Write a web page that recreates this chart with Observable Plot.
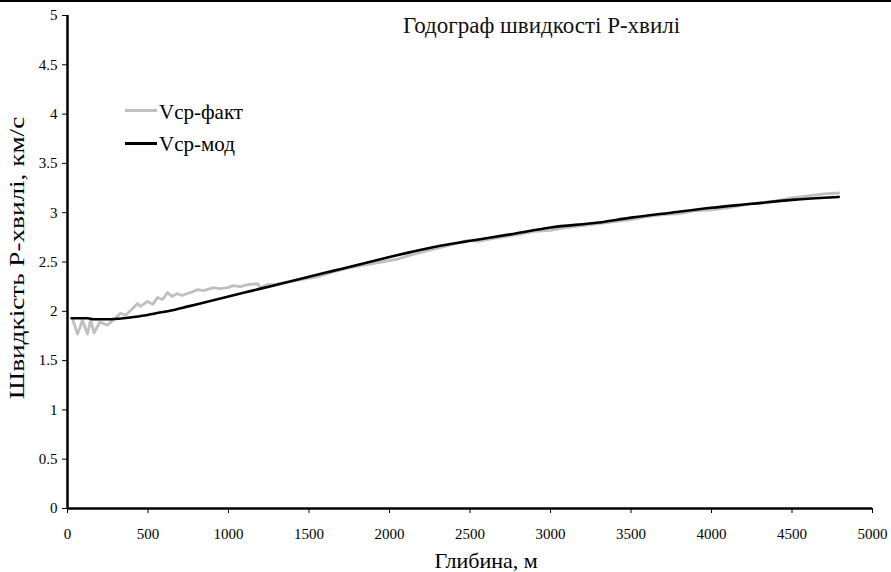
<!DOCTYPE html>
<html>
<head>
<meta charset="utf-8">
<script src="https://cdn.jsdelivr.net/npm/d3@7"></script>
<script src="https://cdn.jsdelivr.net/npm/@observablehq/plot@0.6"></script>
<style>
  html, body { margin: 0; padding: 0; background: #fff; }
  #wrap { position: relative; width: 891px; height: 572px; overflow: hidden; font-family: "Liberation Serif", Tinos, "DejaVu Serif", serif; }
  #topline { position: absolute; left: 0; top: 0; width: 891px; height: 2px; background: #000; }
  #title { position: absolute; left: 403px; top: 14px; font-size: 23px; line-height: 1; color: #111; white-space: nowrap; }
  .legtxt { position: absolute; left: 159px; font-size: 21px; line-height: 1; color: #000; white-space: nowrap; }
  .sw { position: absolute; left: 125px; width: 32px; height: 3px; }
  #ylab { position: absolute; left: 0; top: 0; font-size: 22px; line-height: 1; white-space: nowrap; color: #000; transform-origin: 50% 50%; }
</style>
</head>
<body>
<div id="wrap">
  <div id="chart"></div>
  <div id="topline"></div>
  <div id="title">Годограф швидкості Р-хвилі</div>
  <div class="sw" style="top:109px; background:#c0c0c0"></div>
  <div class="legtxt" style="top:102px">Vср-факт</div>
  <div class="sw" style="top:142px; background:#000"></div>
  <div class="legtxt" style="top:134px">Vср-мод</div>
  <div id="ylab"></div>
</div>
<script>
const depthModel = [25, 125, 160, 250, 350, 450, 550, 650, 750, 850, 950, 1100, 1200, 1300, 1450, 1600, 1700, 1850, 2000, 2130, 2300, 2485, 2750, 3000, 3300, 3500, 3750, 4000, 4250, 4500, 4790];
const vModel = [1.93, 1.93, 1.92, 1.92, 1.93, 1.95, 1.98, 2.01, 2.05, 2.09, 2.13, 2.19, 2.23, 2.27, 2.33, 2.39, 2.43, 2.49, 2.55, 2.60, 2.66, 2.71, 2.78, 2.85, 2.90, 2.95, 3.00, 3.05, 3.09, 3.13, 3.16];

const depthFact = [30, 62, 93, 124, 143, 165, 200, 248, 290, 329, 360, 400, 435, 453, 497, 530, 559, 590, 621, 650, 680, 710, 745, 780, 807, 845, 907, 950, 994, 1030, 1075, 1120, 1180, 1199, 1240, 1280, 1350, 1450, 1550, 1650, 1750, 1850, 1950, 2050, 2130, 2200, 2300, 2400, 2485, 2550, 2650, 2800, 2900, 3000, 3100, 3250, 3400, 3500, 3600, 3700, 3800, 3900, 4000, 4100, 4200, 4300, 4400, 4500, 4600, 4700, 4790];
const vFact = [1.93, 1.77, 1.91, 1.77, 1.91, 1.78, 1.89, 1.86, 1.92, 1.98, 1.96, 2.02, 2.08, 2.05, 2.10, 2.07, 2.14, 2.12, 2.19, 2.15, 2.18, 2.16, 2.18, 2.20, 2.22, 2.21, 2.24, 2.23, 2.24, 2.26, 2.25, 2.27, 2.28, 2.24, 2.27, 2.27, 2.29, 2.32, 2.35, 2.40, 2.44, 2.47, 2.50, 2.53, 2.57, 2.60, 2.64, 2.68, 2.72, 2.71, 2.74, 2.78, 2.81, 2.82, 2.85, 2.88, 2.91, 2.93, 2.96, 2.98, 2.99, 3.02, 3.03, 3.05, 3.08, 3.10, 3.12, 3.15, 3.17, 3.19, 3.20];

const xTicks = [0, 500, 1000, 1500, 2000, 2500, 3000, 3500, 4000, 4500, 5000];
const yTicks = [0, 0.5, 1, 1.5, 2, 2.5, 3, 3.5, 4, 4.5, 5];
const xLabel = "Глибина, м";
const yLabel = "Швидкість Р-хвилі, км/с";

const model = depthModel.map((d, i) => ({depth: d, v: vModel[i]}));
const fact = depthFact.map((d, i) => ({depth: d, v: vFact[i]}));

const serif = "'Liberation Serif', Tinos, 'DejaVu Serif', serif";

const chart = Plot.plot({
  width: 891,
  height: 572,
  marginLeft: 67,
  marginRight: 19,
  marginTop: 15,
  marginBottom: 64,
  style: {fontFamily: serif, fontSize: "15px", color: "#000", background: "#fff"},
  x: {domain: [0, 5000]},
  y: {domain: [0, 5]},
  marks: [
    Plot.axisX({ticks: xTicks, tickFormat: d => String(d), tickSize: 5, tickPadding: 15, label: null, stroke: "#000"}),
    Plot.axisY({ticks: yTicks, tickFormat: d => String(d), tickSize: 5, tickPadding: 5, label: null, stroke: "#000"}),
    Plot.line(fact, {x: "depth", y: "v", stroke: "#c0c0c0", strokeWidth: 2.8, curve: "linear"}),
    Plot.line(model, {x: "depth", y: "v", stroke: "#000", strokeWidth: 2.6, curve: "monotone-x"}),
    Plot.ruleX([0], {stroke: "#000", strokeWidth: 2.5}),
    Plot.ruleY([0], {stroke: "#000", strokeWidth: 2.5}),
    Plot.text([xLabel], {frameAnchor: "bottom", lineAnchor: "bottom", dx: 16, dy: 59, fontSize: 22, fill: "#000"})
  ]
});
document.getElementById("chart").appendChild(chart);

// rotated, stretched y-axis title (HTML text)
const ylab = document.getElementById("ylab");
ylab.textContent = yLabel;
const w = ylab.offsetWidth, h = ylab.offsetHeight;
const s = 283 / w;
ylab.style.left = (17 - w / 2) + "px";
ylab.style.top = (258 - h / 2) + "px";
ylab.style.transform = `rotate(-90deg) scale(${s}, 1)`;
</script>
</body>
</html>
